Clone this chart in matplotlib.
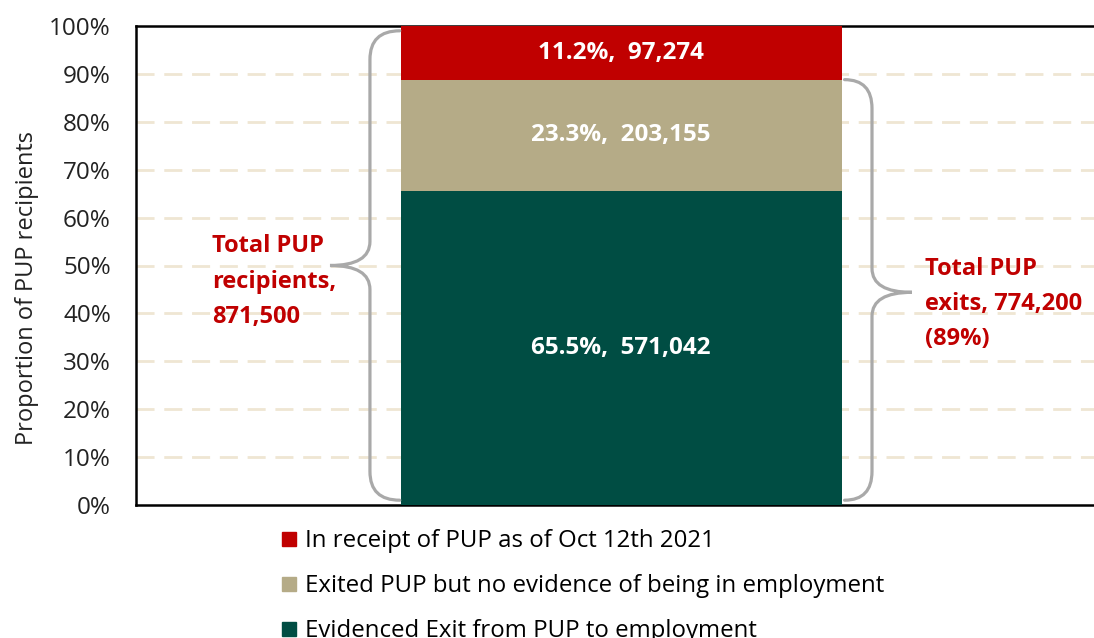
import matplotlib
matplotlib.use("Agg")
import matplotlib.pyplot as plt
from matplotlib.path import Path
from matplotlib.patches import PathPatch
from matplotlib.lines import Line2D

plt.rcParams['font.family'] = ['Open Sans', 'DejaVu Sans']

# ------------------- DATA -------------------
segments = ["Evidenced Exit from PUP to employment",
            "Exited PUP but no evidence of being in employment",
            "In receipt of PUP as of Oct 12th 2021"]
pct = [65.5, 23.3, 11.2]
counts = [571042, 203155, 97274]
colors = ["#004D43", "#B5AB87", "#C00000"]

total_recipients = 871500
total_exits = 774200
exit_share = 89

yticks = list(range(0, 101, 10))

# ------------------- PLOT -------------------
fig = plt.figure(figsize=(10.94, 6.38), dpi=100)
ax = fig.add_axes([136 / 1094, 1 - 505 / 638, 0.88, 479 / 638])
ax.set_xlim(0, 1)
ax.set_ylim(0, 100)

bar_x = 0.504
bar_w = 0.458
bottom = 0
for p, c, col in zip(pct, counts, colors):
    ax.bar(bar_x, p, bar_w, bottom=bottom, color=col, zorder=3)
    ax.text(bar_x, bottom + p / 2, f"{p:.1f}%,  {c:,}", ha="center", va="center",
            color="white", fontsize=17.5, fontweight="bold", zorder=4)
    bottom += p

# gridlines
for y in yticks[1:-1]:
    ax.axhline(y, color="#EFE6D3", lw=2, ls=(0, (6.5, 3.5)), zorder=1)

ax.set_yticks(yticks)
ax.set_yticklabels([f"{t}%" for t in yticks], fontsize=17.5, color="#222222")
ax.set_xticks([])
ax.tick_params(axis="y", length=0, pad=18)
ax.set_ylabel("Proportion of PUP recipients", fontsize=17, color="#222222")
ax.yaxis.set_label_coords(-0.101, 0.453)
for s in ["left", "top", "bottom"]:
    ax.spines[s].set_linewidth(1.8)
    ax.spines[s].set_color("black")
ax.spines["right"].set_visible(False)


def brace(ax, spine, end, tip, top, bot, mid, rh=6.0, rm=5.0):
    verts = [(end, top), (spine, top), (spine, top - rh),
             (spine, mid + rm), (spine, mid), (tip, mid),
             (spine, mid), (spine, mid - rm),
             (spine, bot + rh), (spine, bot), (end, bot)]
    codes = [Path.MOVETO, Path.CURVE3, Path.CURVE3,
             Path.LINETO, Path.CURVE3, Path.CURVE3,
             Path.CURVE3, Path.CURVE3,
             Path.LINETO, Path.CURVE3, Path.CURVE3]
    ax.add_patch(PathPatch(Path(verts, codes), fill=False, edgecolor="#A9A9A9",
                           lw=2.3, zorder=5, capstyle="round"))


exits_pct = pct[0] + pct[1]
brace(ax, 0.243, 0.274, 0.2015, 99, 1, 50)
brace(ax, 0.7645, 0.736, 0.806, exits_pct, 1, exits_pct / 2)

ax.text(0.079, 56.5, f"Total PUP\nrecipients,\n{total_recipients:,}", ha="left", va="top",
        color="#C00000", fontsize=17, fontweight="bold", linespacing=1.62, zorder=6)
ax.text(0.82, 51.8, f"Total PUP\nexits, {total_exits:,}\n({exit_share}%)", ha="left", va="top",
        color="#C00000", fontsize=17, fontweight="bold", linespacing=1.62, zorder=6)

# legend (top of stack first)
handles = [Line2D([], [], marker="s", ls="none", color=col, markersize=10.5)
           for col in colors[::-1]]
fig.legend(handles, segments[::-1], loc="upper left",
           bbox_to_anchor=(277 / 1094, 1 - 529 / 638), frameon=False,
           fontsize=17.3, labelspacing=0.88, handletextpad=0.15, handlelength=1.0,
           borderaxespad=0, borderpad=0)

fig.savefig("out.png", dpi=100)
